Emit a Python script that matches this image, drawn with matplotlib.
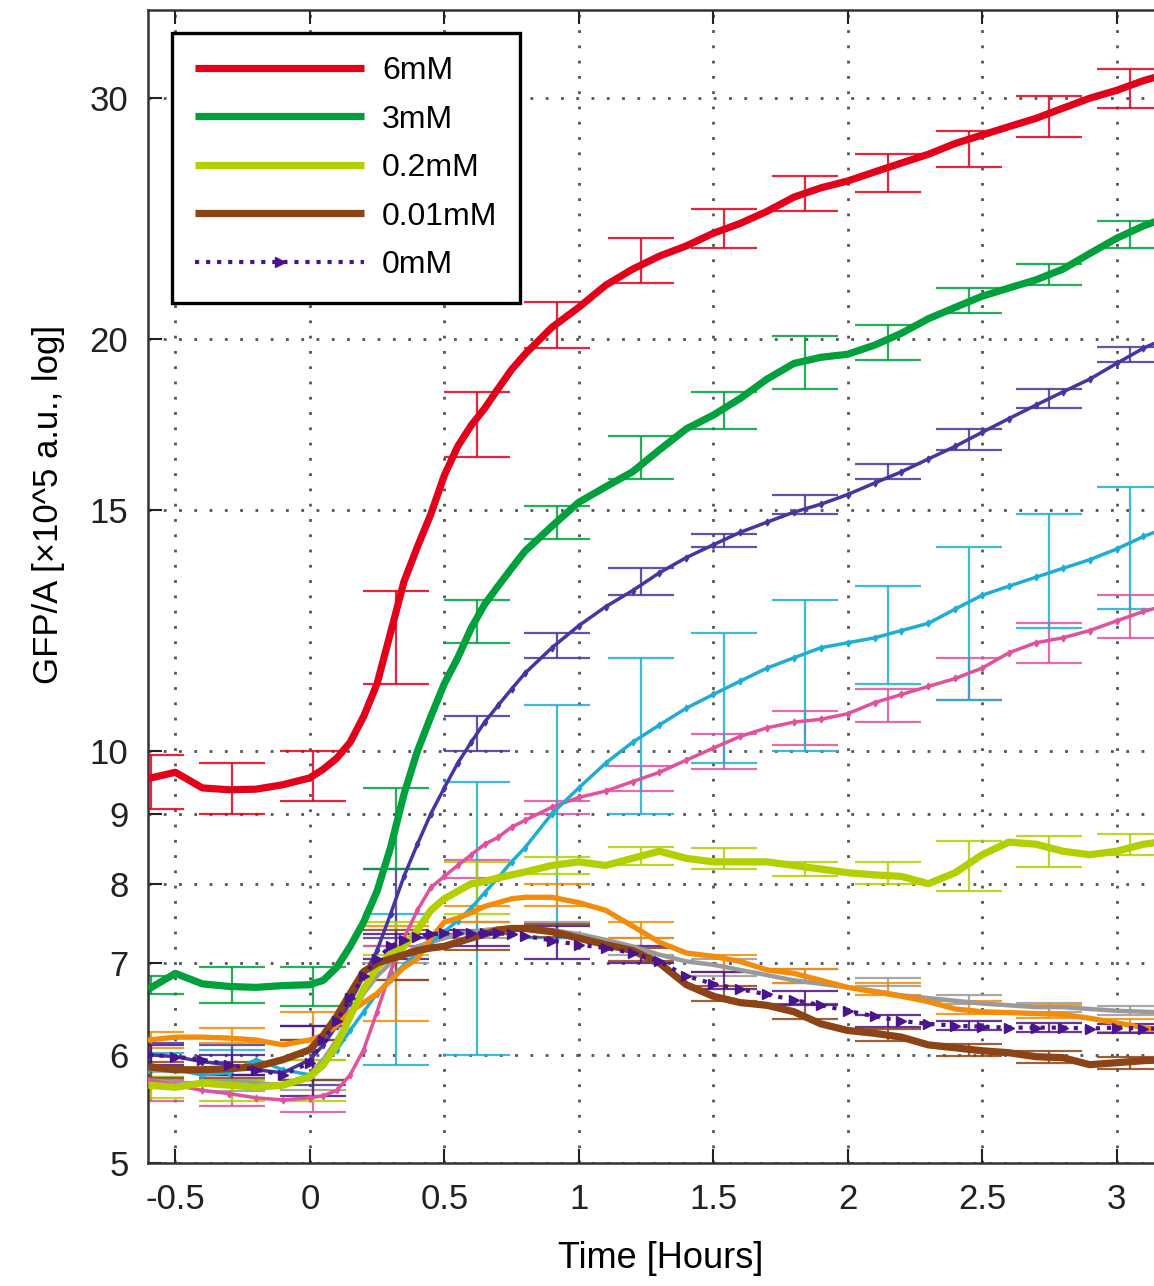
import numpy as np
import matplotlib
matplotlib.use("Agg")
import matplotlib.pyplot as plt
from matplotlib.ticker import NullLocator

# sample times (hours), finer around the induction step
T = [-0.6, -0.5, -0.4, -0.3, -0.2, -0.1, 0.0,
     0.05, 0.1, 0.15, 0.2, 0.25, 0.3, 0.35, 0.4, 0.45, 0.5, 0.55, 0.6, 0.65, 0.7, 0.75, 0.8,
     0.9, 1.0, 1.1, 1.2, 1.3, 1.4, 1.5, 1.6, 1.7, 1.8, 1.9, 2.0, 2.1, 2.2, 2.3, 2.4, 2.5,
     2.6, 2.7, 2.8, 2.9, 3.0, 3.1, 3.2]

# GFP/A traces (x10^5 a.u.)
gfp_6mM = [9.55, 9.65, 9.4, 9.37, 9.38, 9.45, 9.56,
           9.7, 9.88, 10.15, 10.6, 11.2, 12.2, 13.3, 14.1, 14.9, 15.9, 16.7, 17.3, 17.8, 18.4, 19.0, 19.5,
           20.4, 21.1, 21.9, 22.5, 23.0, 23.4, 23.9, 24.3, 24.8, 25.4, 25.8, 26.1, 26.5, 26.9, 27.3, 27.8, 28.2,
           28.6, 29.0, 29.5, 30.0, 30.4, 30.9, 31.3]
gfp_3mM = [6.7, 6.88, 6.76, 6.73, 6.72, 6.74, 6.75,
           6.8, 6.95, 7.2, 7.5, 7.9, 8.5, 9.3, 10.0, 10.6, 11.2, 11.7, 12.3, 12.8, 13.2, 13.6, 14.0,
           14.6, 15.2, 15.6, 16.0, 16.6, 17.2, 17.6, 18.1, 18.7, 19.2, 19.4, 19.5, 19.8, 20.2, 20.7, 21.1, 21.5,
           21.8, 22.1, 22.5, 23.1, 23.7, 24.2, 24.6]
gfp_blue = [6.0, 5.98, 5.93, 5.9, 5.85, 5.82, 5.95,
            6.1, 6.3, 6.55, 6.85, 7.15, 7.6, 8.1, 8.55, 9.0, 9.4, 9.8, 10.15, 10.5, 10.8, 11.1, 11.4,
            11.9, 12.35, 12.75, 13.1, 13.5, 13.85, 14.15, 14.45, 14.7, 14.95, 15.15, 15.4, 15.7, 16.0, 16.35, 16.7, 17.1,
            17.5, 17.9, 18.3, 18.7, 19.2, 19.7, 20.1]
gfp_cyan = [5.85, 5.85, 5.8, 5.82, 5.95, 5.85, 5.8,
            5.9, 6.05, 6.25, 6.45, 6.65, 6.82, 6.98, 7.12, 7.25, 7.38, 7.52, 7.68, 7.88, 8.08, 8.3, 8.5,
            9.0, 9.4, 9.8, 10.15, 10.45, 10.75, 11.0, 11.25, 11.5, 11.7, 11.9, 12.0, 12.1, 12.25, 12.4, 12.7, 13.0,
            13.2, 13.4, 13.6, 13.8, 14.05, 14.35, 14.6]
gfp_pink = [5.75, 5.7, 5.65, 5.62, 5.58, 5.56, 5.58,
            5.6, 5.65, 5.8, 6.05, 6.45, 6.9, 7.3, 7.65, 7.95, 8.1, 8.25, 8.4, 8.55, 8.65, 8.8, 8.9,
            9.1, 9.25, 9.35, 9.5, 9.65, 9.85, 10.05, 10.25, 10.4, 10.5, 10.55, 10.65, 10.85, 11.0, 11.15, 11.3, 11.5,
            11.8, 12.0, 12.1, 12.25, 12.45, 12.65, 12.8]
gfp_02mM = [5.7, 5.68, 5.72, 5.7, 5.68, 5.7, 5.78,
            5.9, 6.1, 6.4, 6.7, 6.95, 7.1, 7.2, 7.4, 7.65, 7.8, 7.9, 8.0, 8.03, 8.08, 8.12, 8.16,
            8.25, 8.3, 8.25, 8.35, 8.45, 8.35, 8.3, 8.3, 8.3, 8.25, 8.2, 8.15, 8.12, 8.1, 8.0, 8.15, 8.4,
            8.58, 8.55, 8.45, 8.4, 8.45, 8.55, 8.6]
gfp_001mM = [5.88, 5.85, 5.85, 5.86, 5.88, 5.95, 6.05,
             6.2, 6.4, 6.65, 6.9, 7.0, 7.05, 7.1, 7.15, 7.18, 7.2, 7.25, 7.3, 7.35, 7.4, 7.42, 7.42,
             7.38, 7.3, 7.22, 7.15, 7.0, 6.75, 6.62, 6.55, 6.52, 6.45, 6.32, 6.25, 6.22, 6.18, 6.1, 6.07, 6.04,
             6.02, 5.98, 5.97, 5.9, 5.92, 5.94, 5.95]
gfp_0mM = [6.0, 5.98, 5.95, 5.9, 5.85, 5.8, 5.92,
           6.15, 6.35, 6.6, 6.85, 7.05, 7.2, 7.28, 7.32, 7.35, 7.36, 7.36, 7.36, 7.36, 7.36, 7.35, 7.33,
           7.27, 7.22, 7.18, 7.12, 7.02, 6.85, 6.76, 6.7, 6.64, 6.58, 6.52, 6.46, 6.4, 6.35, 6.32, 6.3, 6.29,
           6.28, 6.28, 6.28, 6.27, 6.28, 6.27, 6.27]
gfp_orange = [6.15, 6.18, 6.18, 6.17, 6.15, 6.1, 6.15,
              6.2, 6.3, 6.45, 6.55, 6.65, 6.8, 6.95, 7.05, 7.3, 7.5, 7.55, 7.62, 7.7, 7.75, 7.8, 7.82,
              7.82, 7.75, 7.65, 7.45, 7.25, 7.12, 7.08, 7.02, 6.92, 6.88, 6.8, 6.72, 6.67, 6.62, 6.56, 6.48, 6.45,
              6.44, 6.43, 6.42, 6.38, 6.33, 6.28, 6.25]
gfp_gray = [5.75, 5.72, 5.72, 5.74, 5.72, 5.7, 5.8,
            5.95, 6.15, 6.4, 6.65, 6.85, 7.0, 7.1, 7.2, 7.25, 7.3, 7.35, 7.38, 7.4, 7.42, 7.42, 7.42,
            7.4, 7.35, 7.28, 7.2, 7.1, 7.02, 6.98, 6.92, 6.86, 6.8, 6.76, 6.72, 6.68, 6.63, 6.6, 6.57, 6.54,
            6.52, 6.5, 6.5, 6.48, 6.46, 6.45, 6.44]

# error bars: mean and half-width at every 0.3 h
ERR_T = [-0.59, -0.29, 0.01, 0.32, 0.62, 0.92, 1.23, 1.54, 1.84, 2.15, 2.45, 2.75, 3.05]
err_6mM = ([9.5, 9.4, 9.6, 12.15, 17.35, 20.5, 22.85, 24.1, 25.55, 26.45, 27.55, 29.1, 30.5],
           [0.43, 0.41, 0.4, 0.95, 0.95, 0.8, 0.85, 0.8, 0.75, 0.85, 0.85, 1.0, 1.0])
err_3mM = ([6.75, 6.75, 6.73, 8.8, 12.45, 14.7, 16.4, 17.75, 19.25, 19.9, 21.35, 22.3, 23.85],
           [0.1, 0.2, 0.22, 0.6, 0.45, 0.4, 0.6, 0.55, 0.85, 0.6, 0.45, 0.4, 0.55])
err_blue = ([6.0, 5.95, 6.0, 7.75, 10.3, 11.95, 13.3, 14.25, 15.15, 16.0, 16.9, 18.1, 19.5],
            [0.12, 0.15, 0.3, 0.45, 0.3, 0.25, 0.3, 0.15, 0.25, 0.2, 0.3, 0.3, 0.25])
err_cyan = ([5.9, 5.9, 5.95, 6.75, 7.75, 9.05, 10.35, 11.0, 11.45, 12.2, 12.5, 13.6, 14.15],
            [0.12, 0.15, 0.2, 0.85, 1.75, 1.75, 1.35, 1.2, 1.45, 1.0, 1.6, 1.3, 1.45])
err_pink = ([5.65, 5.6, 5.6, 7.0, 8.2, 9.1, 9.55, 10.0, 10.4, 10.8, 11.3, 12.0, 12.55],
            [0.1, 0.1, 0.15, 0.2, 0.12, 0.1, 0.2, 0.3, 0.3, 0.3, 0.4, 0.4, 0.45])
err_02mM = ([5.68, 5.65, 5.75, 7.3, 7.95, 8.25, 8.38, 8.35, 8.2, 8.15, 8.25, 8.45, 8.55],
            [0.1, 0.1, 0.2, 0.2, 0.35, 0.12, 0.13, 0.15, 0.1, 0.15, 0.35, 0.22, 0.15])
err_001mM = ([5.85, 5.85, 5.95, 7.1, 7.25, 7.4, 7.1, 6.65, 6.45, 6.2, 6.05, 5.98, 5.92],
             [0.08, 0.08, 0.2, 0.3, 0.1, 0.08, 0.08, 0.08, 0.08, 0.06, 0.06, 0.06, 0.06])
err_0mM = ([6.0, 5.9, 5.95, 7.2, 7.3, 7.25, 7.1, 6.8, 6.6, 6.35, 6.3, 6.28, 6.27],
           [0.1, 0.1, 0.35, 0.15, 0.1, 0.2, 0.1, 0.1, 0.08, 0.06, 0.05, 0.05, 0.05])
err_orange = ([6.15, 6.2, 6.3, 6.9, 7.6, 7.85, 7.4, 7.0, 6.85, 6.7, 6.5, 6.45, 6.3],
              [0.08, 0.08, 0.15, 0.55, 0.1, 0.15, 0.1, 0.1, 0.08, 0.07, 0.07, 0.07, 0.07])
err_gray = ([5.75, 5.72, 5.8, 7.1, 7.4, 7.4, 7.2, 6.95, 6.85, 6.78, 6.58, 6.5, 6.46],
            [0.08, 0.08, 0.15, 0.1, 0.1, 0.1, 0.1, 0.1, 0.08, 0.05, 0.05, 0.05, 0.05])

XTICKS = [-0.5, 0, 0.5, 1, 1.5, 2, 2.5, 3]
XTICK_LABELS = ["-0.5", "0", "0.5", "1", "1.5", "2", "2.5", "3"]
YTICKS = [5, 6, 7, 8, 9, 10, 15, 20, 30]
LEGEND_LABELS = ["6mM", "3mM", "0.2mM", "0.01mM", "0mM"]


def main():
    plt.rcParams["font.family"] = ["Liberation Sans", "DejaVu Sans"]

    fig = plt.figure(figsize=(11.54, 12.86), dpi=100)
    ax = fig.add_axes([0.1282, 0.0956, 0.8883, 0.8966])
    ax.set_yscale("log")

    # (trace, errors, colour, linewidth, style)
    series = [
        (gfp_gray, err_gray, "#9a9a9a", 3.2, "thin"),
        (gfp_pink, err_pink, "#e0529c", 2.5, "dots"),
        (gfp_cyan, err_cyan, "#1eaed4", 2.5, "dots"),
        (gfp_blue, err_blue, "#4536a0", 2.5, "dots"),
        (gfp_orange, err_orange, "#f28c0a", 3.8, "thin"),
        (gfp_02mM, err_02mM, "#b3cf00", 5.2, "thick"),
        (gfp_001mM, err_001mM, "#8c4416", 5.2, "thick"),
        (gfp_0mM, err_0mM, "#4a148c", 3.0, "tri"),
        (gfp_3mM, err_3mM, "#00a03c", 5.2, "thick"),
        (gfp_6mM, err_6mM, "#e3001b", 5.2, "thick"),
    ]

    for trace, (centers, halfs), color, lw, style in series:
        ax.errorbar(ERR_T, centers, yerr=halfs, fmt="none", ecolor=color,
                    elinewidth=1.6, capsize=24, capthick=1.6, alpha=0.85, zorder=2)

    handles = {}
    for trace, errs, color, lw, style in series:
        if style == "thick":
            ln, = ax.plot(T, trace, color=color, lw=lw, solid_capstyle="butt", zorder=4)
        elif style == "tri":
            ln, = ax.plot(T, trace, color=color, lw=lw, ls=":", marker=">",
                          markersize=7, zorder=5)
        elif style == "dots":
            ln, = ax.plot(T, trace, color=color, lw=lw, marker="d", markersize=3.5, zorder=3)
        else:
            ln, = ax.plot(T, trace, color=color, lw=lw, zorder=3)
        handles[id(trace)] = ln

    legend_handles = [handles[id(gfp_6mM)], handles[id(gfp_3mM)], handles[id(gfp_02mM)],
                      handles[id(gfp_001mM)], handles[id(gfp_0mM)]]

    ax.set_xlim(-0.602, 3.21)
    ax.set_ylim(5, 34.8)
    ax.set_xticks(XTICKS)
    ax.set_xticklabels(XTICK_LABELS)
    ax.set_yticks(YTICKS)
    ax.set_yticklabels([str(v) for v in YTICKS])
    ax.yaxis.set_minor_locator(NullLocator())

    ax.tick_params(direction="in", length=10, width=1.5, top=True, right=False,
                   labelsize=25, pad=14, colors="#222222")
    for side in ["left", "bottom", "top"]:
        ax.spines[side].set_linewidth(1.8)
        ax.spines[side].set_color("#333333")
    ax.spines["right"].set_visible(False)

    ax.grid(True, which="major", linestyle=(0, (1, 4.5)), linewidth=2.0, color="#555555")
    ax.set_axisbelow(True)

    ax.set_xlabel("Time [Hours]", fontsize=26, labelpad=18)
    ax.set_ylabel("GFP/A [×10^5 a.u., log]", fontsize=25)
    ax.yaxis.set_label_coords(-0.081, 0.571)

    leg = ax.legend(legend_handles, LEGEND_LABELS, loc="upper left",
                    bbox_to_anchor=(0.0234, 0.980), borderaxespad=0, fontsize=23,
                    handlelength=5.3, handletextpad=0.56, labelspacing=0.58,
                    borderpad=0.72, fancybox=False, framealpha=1, edgecolor="black")
    leg.get_frame().set_linewidth(2.4)

    fig.savefig("out.png", dpi=100)


if __name__ == "__main__":
    main()
